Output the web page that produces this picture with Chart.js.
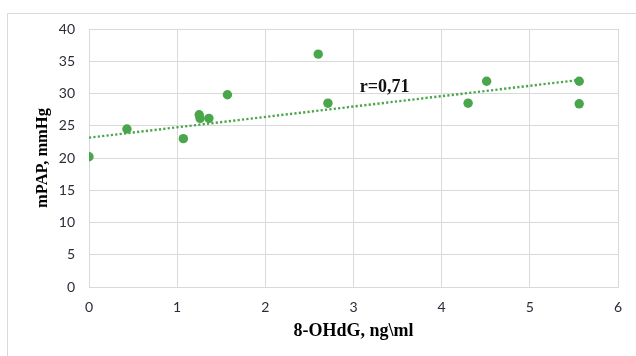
<!DOCTYPE html>
<html>
<head>
<meta charset="utf-8">
<script src="https://cdn.jsdelivr.net/npm/chart.js@4.4.1/dist/chart.umd.min.js"></script>
<style>
html,body{margin:0;padding:0;background:#fff;}
#wrap{width:636px;height:356px;position:relative;}
</style>
</head>
<body>
<div id="wrap"><canvas id="c" width="636" height="356"></canvas></div>
<script>
// Data
const ohdg = [0, 0.43, 1.07, 1.25, 1.26, 1.36, 1.57, 2.60, 2.71, 4.30, 4.51, 5.56, 5.56];
const mpap = [20.2, 24.5, 23.0, 26.7, 26.15, 26.15, 29.8, 36.1, 28.5, 28.5, 31.9, 31.9, 28.4];
const trendX = [0, 5.56];
const trendY = [23.15, 32.1];
const xTicks = [0, 1, 2, 3, 4, 5, 6];
const yTicks = [0, 5, 10, 15, 20, 25, 30, 35, 40];
const xTitle = '8-OHdG, ng\\ml';
const yTitle = 'mPAP, mmHg';
const rLabel = 'r=0,71';

const green = '#4aa64a';
const grid = '#d9d9d9';

const points = ohdg.map((x, i) => ({x: x, y: mpap[i]}));
const trend = trendX.map((x, i) => ({x: x, y: trendY[i]}));

const frame = {
  id: 'frame',
  beforeDraw(chart) {
    const ctx = chart.ctx;
    ctx.save();
    ctx.strokeStyle = '#d9d9d9';
    ctx.lineWidth = 1;
    ctx.beginPath();
    ctx.moveTo(7.5, 356);
    ctx.lineTo(7.5, 13.5);
    ctx.lineTo(636, 13.5);
    ctx.stroke();
    ctx.restore();
  },
  afterDatasetsDraw(chart) {
    const ctx = chart.ctx;
    const xs = chart.scales.x, ys = chart.scales.y;
    ctx.save();
    ctx.font = 'bold 18px "Liberation Serif"';
    ctx.fillStyle = '#111';
    ctx.textAlign = 'left';
    ctx.textBaseline = 'middle';
    ctx.fillText(rLabel, xs.getPixelForValue(3.07), ys.getPixelForValue(30.9));
    ctx.restore();
  }
};

new Chart(document.getElementById('c'), {
  type: 'scatter',
  data: {
    datasets: [
      {
        label: 'mPAP',
        data: points,
        backgroundColor: green,
        borderColor: green,
        pointRadius: 4.7,
        pointHoverRadius: 4.7,
        borderWidth: 0
      },
      {
        type: 'line',
        label: 'trend',
        data: trend,
        borderColor: green,
        borderWidth: 2.4,
        borderDash: [2.2, 2.2],
        pointRadius: 0,
        fill: false,
        tension: 0
      }
    ]
  },
  options: {
    responsive: false,
    animation: false,
    events: [],
    layout: {padding: {top: 29, right: 18, left: 0, bottom: 0}},
    plugins: {legend: {display: false}, tooltip: {enabled: false}},
    scales: {
      x: {
        type: 'linear',
        min: 0, max: 6,
        afterFit(s) { s.height = 69; },
        afterBuildTicks(s) { s.ticks = xTicks.map(v => ({value: v})); },
        grid: {color: grid, lineWidth: 1, drawTicks: false},
        border: {color: grid, width: 1},
        ticks: {color: '#2b2b3a', padding: 12, font: {family: 'Lato', size: 14}},
        title: {display: true, text: xTitle, color: '#000', padding: {top: 0, bottom: 14},
                font: {family: '"Liberation Serif"', size: 18, weight: 'bold'}}
      },
      y: {
        type: 'linear',
        min: 0, max: 40,
        afterFit(s) { s.width = 89; },
        afterBuildTicks(s) { s.ticks = yTicks.map(v => ({value: v})); },
        grid: {color: grid, lineWidth: 1, drawTicks: false},
        border: {color: grid, width: 1},
        ticks: {color: '#2b2b3a', padding: 14, font: {family: 'Lato', size: 14}},
        title: {display: true, text: yTitle, color: '#000', padding: {top: 33, bottom: 0},
                font: {family: '"Liberation Serif"', size: 16.5, weight: 'bold'}}
      }
    }
  },
  plugins: [frame]
});
</script>
</body>
</html>
